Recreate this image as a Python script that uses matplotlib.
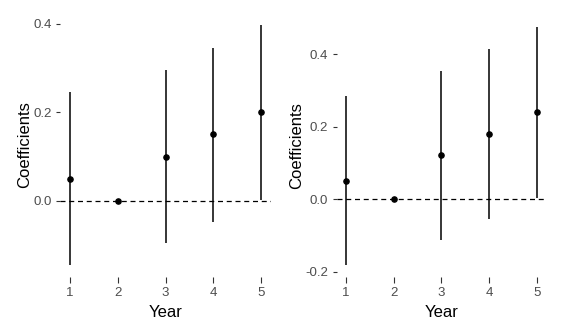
import numpy as np
import matplotlib.pyplot as plt

years = [1, 2, 3, 4, 5]

# left panel
coef_a = [0.05, 0.0, 0.10, 0.15, 0.20]
lo_a = [-0.145, 0.0, -0.095, -0.047, 0.002]
hi_a = [0.245, 0.0, 0.295, 0.345, 0.397]

# right panel
coef_b = [0.051, 0.0, 0.122, 0.18, 0.241]
lo_b = [-0.181, 0.0, -0.112, -0.054, 0.005]
hi_b = [0.285, 0.0, 0.354, 0.415, 0.476]

grey = '#4D4D4D'


def panel(ax, coef, lo, hi, yticks):
    for x, c, l, h in zip(years, coef, lo, hi):
        if h > l:
            ax.vlines(x, l, h, color='black', lw=1.1)
    ax.scatter(years, coef, s=14, color='black', zorder=3)
    ax.axhline(0, color='black', lw=0.9, ls=(0, (4, 3)))
    span = max(hi) - min(lo)
    ax.set_ylim(min(lo) - 0.05 * span, max(hi) + 0.05 * span)
    ax.set_xlim(0.8, 5.2)
    ax.set_xticks(years)
    ax.set_yticks(yticks)
    ax.set_yticklabels(['%.1f' % t for t in yticks])
    for s in ax.spines.values():
        s.set_visible(False)
    ax.tick_params(colors='#333333', labelcolor=grey, labelsize=9.5, length=3, width=0.8, pad=3)
    ax.tick_params(axis='x', length=4, pad=3.5)
    ax.set_xlabel('Year', fontsize=12, labelpad=4)
    ax.set_ylabel('Coefficients', fontsize=12, labelpad=1)


plt.rcParams['font.family'] = ['Liberation Sans', 'DejaVu Sans']
fig = plt.figure(figsize=(5.63, 3.35), dpi=100)
ax1 = fig.add_axes([0.1073, 0.1731, 0.3734, 0.788])
ax2 = fig.add_axes([0.5977, 0.1731, 0.3725, 0.782])
panel(ax1, coef_a, lo_a, hi_a, [0.0, 0.2, 0.4])
panel(ax2, coef_b, lo_b, hi_b, [-0.2, 0.0, 0.2, 0.4])
fig.savefig('out.png', dpi=100)
